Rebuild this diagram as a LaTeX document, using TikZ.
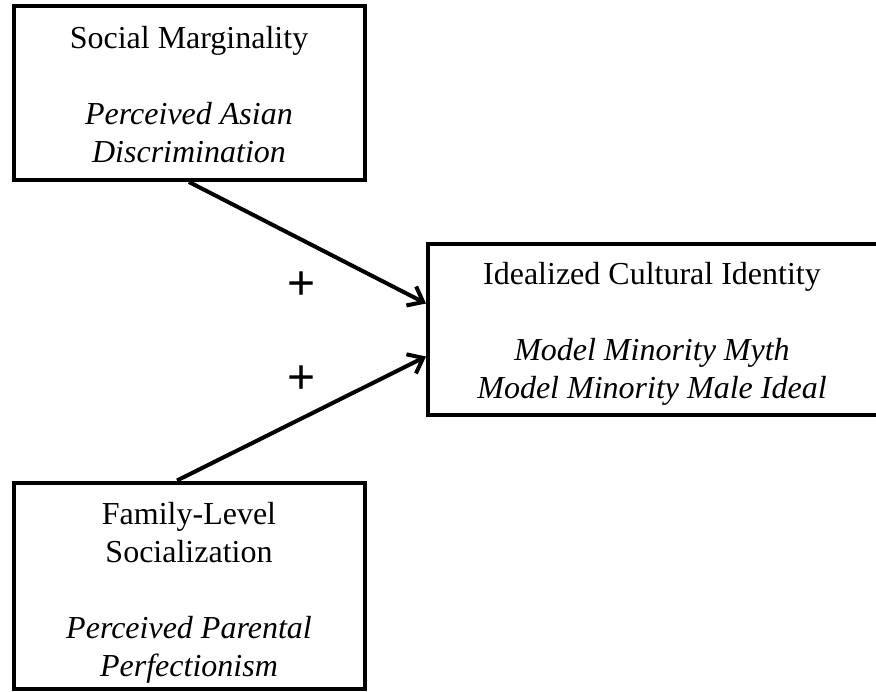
\documentclass[tikz,border=0pt]{standalone}
\usepackage{fontspec}
\setmainfont{Liberation Serif}
\setsansfont{Liberation Sans}
\usetikzlibrary{arrows.meta,calc}
\begin{document}
\begin{tikzpicture}[x=0.75pt,y=-0.75pt,
  box/.style={draw=black,line width=3pt,rectangle,inner sep=0pt},
  boxtext/.style={align=center,inner sep=0pt,font=\fontsize{24}{28.5}\selectfont},
  sign/.style={inner sep=0pt,font=\sffamily\fontsize{36}{36}\selectfont},
  link/.style={line width=3pt,-{Straight Barb[length=10pt,width=16pt]}}]
  \clip (0,0) rectangle (876,692);

  % construct boxes
  \node[box,minimum width=263.25pt,minimum height=130.5pt] (b1) at (189,93) {};
  \node[box,minimum width=339pt,minimum height=128.25pt] (b2) at (654,329.5) {};
  \node[box,minimum width=263.25pt,minimum height=154.5pt] (b3) at (189,585.5) {};

  % box contents
  \node[boxtext] (t1) at (189,95) {Social Marginality\\[28.5pt]\textit{Perceived Asian}\\\textit{Discrimination}};
  \node[boxtext] (t2) at (652,334) {Idealized Cultural Identity\\[28.5pt]\textit{Model Minority Myth}\\\textit{Model Minority Male Ideal}};
  \node[boxtext] (t3) at (189,593) {Family-Level\\Socialization\\[28.5pt]\textit{Perceived Parental}\\\textit{Perfectionism}};

  % paths into the outcome
  \draw[link] (b1.south) -- ($(b2.west)+(0,-26)$);
  \draw[link] ($(b3.north)+(-12,0)$) -- ($(b2.west)+(0,27)$);

  \node[sign] (p1) at (302,285.5) {+};
  \node[sign] (p2) at (302,380) {+};
\end{tikzpicture}
\end{document}
